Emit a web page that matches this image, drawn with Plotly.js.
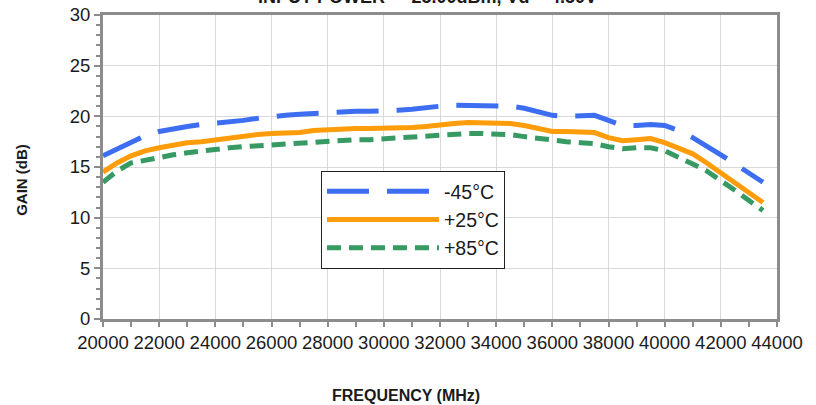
<!DOCTYPE html>
<html>
<head>
<meta charset="utf-8">
<script src="https://cdn.plot.ly/plotly-3.0.1.min.js"></script>
<style>html,body{margin:0;padding:0;background:#fff;}#chart{width:816px;height:405px;}</style>
</head>
<body>
<div id="chart"></div>
<script>
const freqMHz = [20000,20500,21000,21500,22000,22500,23000,23500,24000,24500,25000,25500,26000,26500,27000,27500,28000,28500,29000,29500,30000,30500,31000,31500,32000,32500,33000,33500,34000,34500,35000,35500,36000,36500,37000,37500,38000,38500,39000,39500,40000,40500,41000,41500,42000,42500,43000,43500];
const gainMinus45 = [16.1,16.8,17.5,18.1,18.5,18.8,19.0,19.2,19.3,19.5,19.6,19.8,20.0,20.1,20.2,20.3,20.4,20.5,20.5,20.5,20.5,20.6,20.7,20.9,21.0,21.1,21.1,21.1,21.1,21.0,20.8,20.5,20.1,20.0,20.0,20.1,19.6,19.1,19.1,19.2,19.1,18.6,17.9,17.1,16.2,15.3,14.4,13.5];
const gainPlus25 = [14.5,15.4,16.1,16.6,16.9,17.2,17.4,17.5,17.7,17.9,18.0,18.2,18.3,18.3,18.4,18.6,18.7,18.8,18.8,18.8,18.8,18.9,18.9,19.0,19.2,19.3,19.4,19.4,19.4,19.3,19.1,18.8,18.5,18.5,18.5,18.4,17.9,17.6,17.7,17.8,17.4,16.9,16.3,15.4,14.4,13.4,12.5,11.5];
const gainPlus85 = [13.5,14.6,15.4,15.7,16.0,16.2,16.4,16.6,16.8,16.9,17.0,17.1,17.2,17.3,17.4,17.5,17.6,17.6,17.7,17.7,17.8,17.9,18.0,18.1,18.2,18.3,18.3,18.3,18.3,18.2,18.0,17.8,17.6,17.5,17.4,17.3,17.0,16.8,16.9,16.9,16.6,16.0,15.3,14.6,13.7,12.7,11.7,10.7];
const seriesNames = ['-45°C','+25°C','+85°C'];
const xTickVals = [20000,22000,24000,26000,28000,30000,32000,34000,36000,38000,40000,42000,44000];
const yTickVals = [0,5,10,15,20,25,30];

const traces = [
  {x: freqMHz, y: gainMinus45, name: seriesNames[0], mode: 'lines', line: {color: '#3d6ef2', width: 5, dash: '42px,18px'}},
  {x: freqMHz, y: gainPlus25, name: seriesNames[1], mode: 'lines', line: {color: '#ff9c0a', width: 5}},
  {x: freqMHz, y: gainPlus85, name: seriesNames[2], mode: 'lines', line: {color: '#369a62', width: 5, dash: '14px,8px'}}
];

const layout = {
  width: 816, height: 405,
  margin: {l: 103, r: 39, t: 15, b: 86, pad: 0},
  paper_bgcolor: '#ffffff', plot_bgcolor: '#ffffff',
  font: {family: 'Liberation Sans, Arial, sans-serif', size: 19, color: '#1a1a1a'},
  showlegend: true,
  legend: {x: 0.3234, y: 0.487, xanchor: 'left', yanchor: 'top', bgcolor: '#ffffff', bordercolor: '#222', borderwidth: 1, font: {size: 19.5}, itemwidth: 112, tracegroupgap: 0},
  xaxis: {
    range: [20000, 44000], tickmode: 'array', tickvals: xTickVals, ticktext: xTickVals.map(String), tickangle: 0,
    showgrid: true, gridcolor: '#d9d9d9', gridwidth: 1, zeroline: false,
    showline: true, linecolor: '#8c8c8c', linewidth: 3, mirror: true,
    ticks: 'outside', ticklen: 5, tickcolor: '#8c8c8c', tickwidth: 2,
    minor: {dtick: 1000, ticks: 'outside', ticklen: 5, tickcolor: '#8c8c8c', tickwidth: 2, showgrid: false},
    tickfont: {size: 18.5}, fixedrange: true
  },
  yaxis: {
    range: [0, 30], tickmode: 'array', tickvals: yTickVals, ticktext: yTickVals.map(String),
    showgrid: true, gridcolor: '#d9d9d9', gridwidth: 1, zeroline: false,
    showline: true, linecolor: '#8c8c8c', linewidth: 3, mirror: true,
    ticks: 'outside', ticklen: 6, tickcolor: '#8c8c8c', tickwidth: 2,
    minor: {dtick: 1, ticks: 'outside', ticklen: 4, tickcolor: '#8c8c8c', tickwidth: 2, showgrid: false},
    tickfont: {size: 18.5}, fixedrange: true
  },
  annotations: [
    {text: '<b>INPUT POWER = -25.00dBm, Vd = 4.50V</b>', xref: 'paper', yref: 'paper', x: 0.482, y: 1, xanchor: 'center', yanchor: 'bottom', yshift: 6, showarrow: false, font: {size: 18, color: '#1a1a1a'}},
    {text: '<b>GAIN (dB)</b>', xref: 'paper', yref: 'paper', x: -0.122, y: 0.457, xanchor: 'center', yanchor: 'middle', textangle: -90, showarrow: false, font: {size: 15, color: '#1a1a1a'}},
    {text: '<b>FREQUENCY (MHz)</b>', xref: 'paper', yref: 'paper', x: 0.45, y: -0.25, xanchor: 'center', yanchor: 'middle', showarrow: false, font: {size: 16, color: '#1a1a1a'}}
  ]
};

Plotly.newPlot('chart', traces, layout, {displayModeBar: false, staticPlot: true});
</script>
</body>
</html>
